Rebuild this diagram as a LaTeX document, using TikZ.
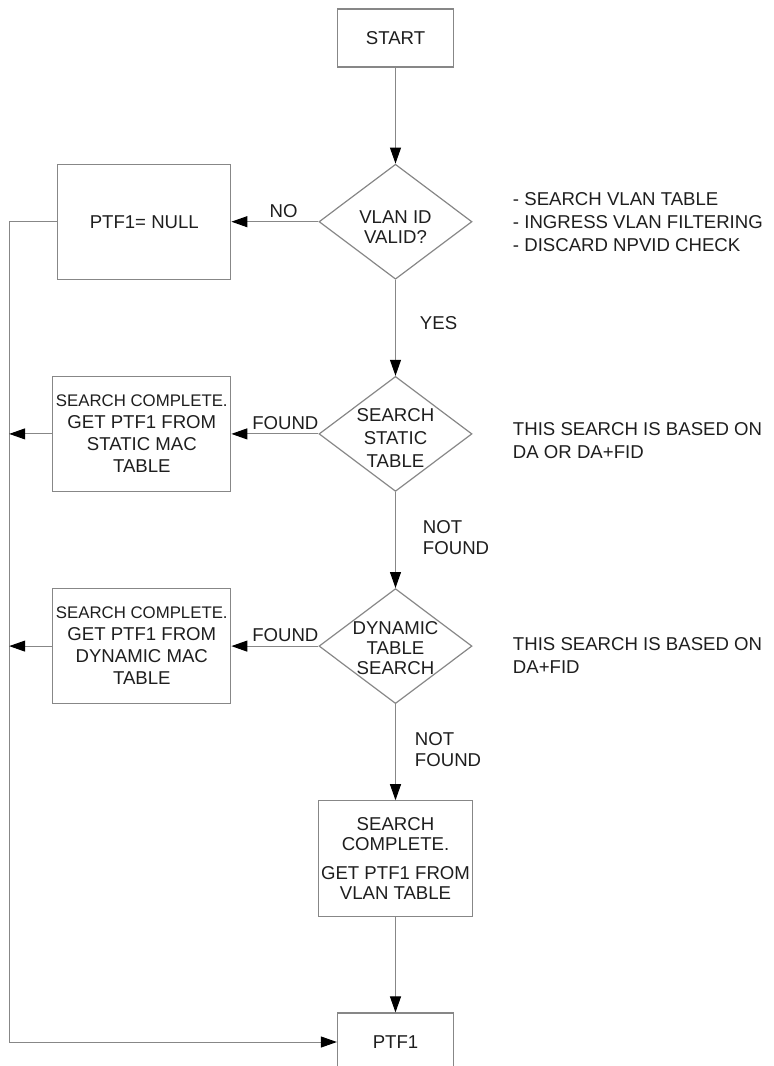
\documentclass[tikz,border=0pt]{standalone}
\usepackage{fontspec}
\setmainfont{Liberation Sans}
\usepackage{tikz}
\usetikzlibrary{shapes.geometric, arrows.meta, positioning}
\definecolor{linegray}{RGB}{135,135,135}
\definecolor{inkgray}{RGB}{30,30,30}

\begin{document}
\begin{tikzpicture}[
    every node/.style={text=inkgray},
    process/.style={rectangle, draw=linegray, line width=0.6pt, minimum width=89pt, minimum height=57.5pt, inner sep=0pt, align=center, font=\fontsize{9.3}{11}\selectfont},
    terminal/.style={process, minimum width=58pt, minimum height=29pt},
    decision/.style={diamond, draw=linegray, line width=0.6pt, minimum width=76.5pt, minimum height=57.5pt, inner sep=0pt},
    inside/.style={align=center, font=\fontsize{9.3}{10}\selectfont},
    note/.style={align=left, inner sep=0pt, font=\fontsize{9.3}{11.5}\selectfont},
    tag/.style={align=left, font=\fontsize{9.3}{10.5}\selectfont, inner sep=2pt},
    arrow/.style={draw=linegray, line width=0.5pt, -{Triangle[length=8pt, width=5.5pt, color=black]}},
    line/.style={draw=linegray, line width=0.5pt},
    node distance=48pt
]
\useasboundingbox (-197.75pt,19pt) rectangle (189.25pt,-514pt);

\node[terminal] (start) {START};
\node[decision, below=of start, label={[inside, yshift=-2.5pt]center:VLAN ID\\VALID?}] (valid) {};
\node[process, left=43.5pt of valid, minimum width=86.5pt] (null) {PTF1= NULL};

\node[decision, below=of valid, label={[inside, yshift=-2pt]center:SEARCH\\[1.5pt]STATIC\\[1.5pt]TABLE}] (static) {};
\node[process, left=43.5pt of static] (sbox) {{\fontsize{8.4}{11}\selectfont SEARCH COMPLETE.}\\GET PTF1 FROM\\STATIC MAC\\TABLE};

\node[decision, below=of static, label={[inside, yshift=-1pt]center:DYNAMIC\\TABLE\\SEARCH}] (dynamic) {};
\node[process, left=43.5pt of dynamic] (dbox) {{\fontsize{8.4}{11}\selectfont SEARCH COMPLETE.}\\GET PTF1 FROM\\DYNAMIC MAC\\TABLE};

\node[process, below=of dynamic, minimum width=77pt, minimum height=58pt, font=\fontsize{9.3}{10}\selectfont] (vbox) {SEARCH\\COMPLETE.\\[4.5pt]GET PTF1 FROM\\VLAN TABLE};
\node[terminal, below=47.5pt of vbox] (ptf) {PTF1};

\coordinate[left=24pt of null.west] (rail);

% Notes
\node[note, right=20pt of valid] (vnote) {- SEARCH VLAN TABLE\\- INGRESS VLAN FILTERING\\- DISCARD NPVID CHECK};
\node[note, right=20pt of static, yshift=-3.5pt] (snote) {THIS SEARCH IS BASED ON\\DA OR DA+FID};
\node[note, right=20pt of dynamic, yshift=-4.5pt] (dnote) {THIS SEARCH IS BASED ON\\DA+FID};

% Arrows
\draw[arrow] (start) -- (valid);
\draw[arrow] (valid) -- node[tag, above, pos=0.4] {NO} (null);
\draw[arrow] (valid) -- node[tag, right, xshift=10pt, pos=0.45] {YES} (static);
\draw[arrow] (static) -- node[tag, above, pos=0.38] {FOUND} (sbox);
\draw[arrow] (static) -- node[tag, right, xshift=11.5pt, pos=0.47] {NOT\\FOUND} (dynamic);
\draw[arrow] (dynamic) -- node[tag, above, pos=0.38] {FOUND} (dbox);
\draw[arrow] (dynamic) -- node[tag, right, xshift=7.5pt, pos=0.47] {NOT\\FOUND} (vbox);
\draw[arrow] (vbox) -- (ptf);
\draw[line] (null.west) -- (rail);
\draw[arrow] (rail) |- (ptf.west);
\draw[arrow] (sbox.west) -- (sbox.west -| rail);
\draw[arrow] (dbox.west) -- (dbox.west -| rail);

\end{tikzpicture}
\end{document}
